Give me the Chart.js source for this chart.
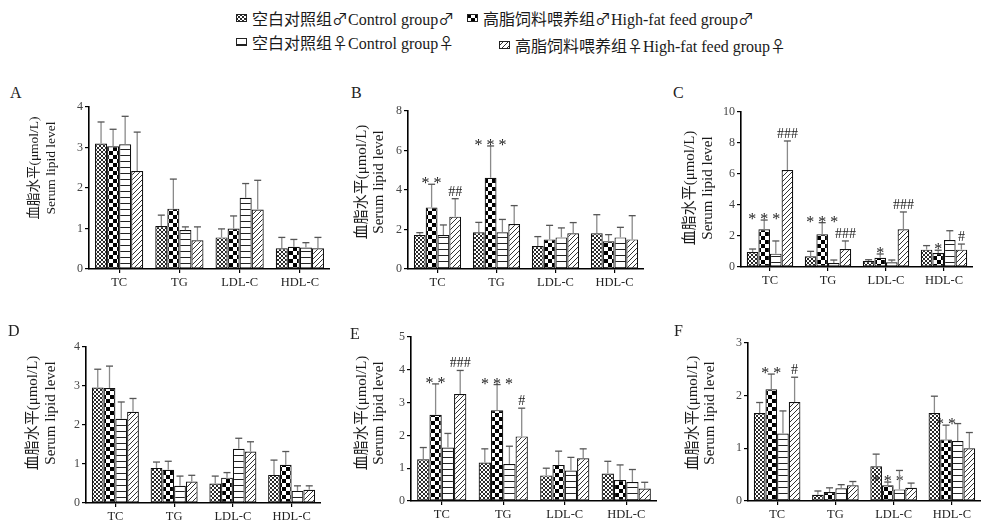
<!DOCTYPE html>
<html lang="zh">
<head>
    <meta charset="UTF-8">
    <title>血脂水平 Serum lipid level</title>
    <script src="https://cdn.jsdelivr.net/npm/chart.js"></script>
    <style>
        html, body {
            margin: 0;
            padding: 0;
            width: 981px;
            height: 522px;
            overflow: hidden;
            background: #fff;
            font-family: 'Liberation Serif', 'Noto Sans CJK SC', serif;
            color: #222;
        }
        canvas.panel { position: absolute; }
        .leg {
            position: absolute;
            height: 20px;
            display: flex;
            align-items: center;
            font-size: 16px;
            white-space: nowrap;
            color: #1a1a1a;
        }
        .leg canvas { margin-right: 5px; }
        .leg .cjk { font-family: 'Noto Sans CJK SC', sans-serif; }
        .letter {
            position: absolute;
            font-size: 16px;
            line-height: 16px;
        }
        .ytitle {
            position: absolute;
            transform: translate(-50%, -50%) rotate(-90deg);
            text-align: center;
            white-space: nowrap;
            color: #1a1a1a;
        }
    </style>
</head>
<body>
    <div id="legend"></div>
    <div id="panels"></div>

    <script>
        const categories = ['TC', 'TG', 'LDL-C', 'HDL-C'];
        const groupNames = [
            '空白对照组♂Control group♂',
            '高脂饲料喂养组♂High-fat feed group♂',
            '空白对照组♀Control group♀',
            '高脂饲料喂养组♀High-fat feed group♀'
        ];
        const yTitle = ['血脂水平(μmol/L)', 'Serum lipid level'];

        // mean values, one row per group (ctrl♂, hf♂, ctrl♀, hf♀)
        const meanA = [[3.10, 1.06, 0.78, 0.51], [3.03, 1.49, 1.00, 0.55], [3.08, 0.96, 1.76, 0.53], [2.42, 0.71, 1.47, 0.51]];
        const sdA   = [[0.53, 0.27, 0.21, 0.27], [0.42, 0.73, 0.31, 0.18], [0.69, 0.08, 0.35, 0.12], [0.96, 0.33, 0.72, 0.27]];
        const sigA  = [['', '', '', ''], ['', '', '', ''], ['', '', '', ''], ['', '', '', '']];

        const meanB = [[1.72, 1.86, 1.16, 1.81], [3.12, 4.62, 1.50, 1.40], [1.72, 1.86, 1.60, 1.60], [2.65, 2.28, 1.81, 1.50]];
        const sdB   = [[0.12, 0.50, 0.48, 0.94], [1.17, 1.61, 0.71, 0.34], [0.51, 0.65, 0.48, 0.51], [0.91, 0.93, 0.54, 1.20]];
        const sigB  = [['', '', '', ''], ['**', '***', '', ''], ['', '', '', ''], ['##', '', '', '']];

        const meanC = [[0.97, 0.69, 0.39, 1.12], [2.43, 2.11, 0.60, 0.90], [0.86, 0.26, 0.30, 1.74], [6.26, 1.16, 2.43, 1.12]];
        const sdC   = [[0.19, 0.32, 0.08, 0.26], [0.60, 0.75, 0.24, 0.18], [0.82, 0.19, 0.15, 0.60], [1.87, 0.52, 1.12, 0.36]];
        const sigC  = [['', '', '', ''], ['***', '***', '*', '*'], ['', '', '', ''], ['###', '###', '###', '#']];

        const meanD = [[2.96, 0.90, 0.50, 0.72], [2.95, 0.85, 0.65, 0.98], [2.16, 0.44, 1.39, 0.31], [2.34, 0.55, 1.32, 0.34]];
        const sdD   = [[0.47, 0.15, 0.19, 0.38], [0.56, 0.22, 0.13, 0.34], [0.43, 0.25, 0.27, 0.13], [0.34, 0.16, 0.25, 0.10]];
        const sigD  = [['', '', '', ''], ['', '', '', ''], ['', '', '', ''], ['', '', '', '']];

        const meanE = [[1.27, 1.17, 0.78, 0.84], [2.63, 2.77, 1.10, 0.64], [1.63, 1.13, 0.93, 0.58], [3.26, 1.97, 1.30, 0.38]];
        const sdE   = [[0.36, 0.42, 0.22, 0.37], [0.94, 0.78, 0.42, 0.46], [0.43, 0.54, 0.40, 0.38], [0.72, 0.86, 0.29, 0.19]];
        const sigE  = [['', '', '', ''], ['**', '***', '', ''], ['', '', '', ''], ['###', '#', '', '']];

        const meanF = [[1.67, 0.12, 0.66, 1.67], [2.12, 0.17, 0.30, 1.17], [1.28, 0.24, 0.22, 1.14], [1.88, 0.30, 0.25, 1.00]];
        const sdF   = [[0.20, 0.07, 0.23, 0.32], [0.29, 0.08, 0.06, 0.27], [0.43, 0.07, 0.36, 0.33], [0.47, 0.07, 0.09, 0.30]];
        const sigF  = [['', '', '', ''], ['**', '', '***', '**'], ['', '', '', ''], ['#', '', '', '']];

        Chart.defaults.font.family = "'Liberation Serif', 'Times New Roman', serif";
        Chart.defaults.color = '#333';

        // fill patterns for the four groups
        function makePattern(kind) {
            const c = document.createElement('canvas');
            const g = c.getContext('2d');
            if (kind === 0) {
                c.width = 4; c.height = 4;
                g.fillStyle = '#fff'; g.fillRect(0, 0, 4, 4);
                g.fillStyle = '#2a2a2a';
                g.fillRect(0, 0, 2, 2); g.fillRect(2, 2, 2, 2);
            } else if (kind === 1) {
                c.width = 8; c.height = 8;
                g.fillStyle = '#fff'; g.fillRect(0, 0, 8, 8);
                g.fillStyle = '#000';
                g.fillRect(0, 0, 4, 4); g.fillRect(4, 4, 4, 4);
            } else if (kind === 2) {
                c.width = 6; c.height = 6;
                g.fillStyle = '#fff'; g.fillRect(0, 0, 6, 6);
                g.fillStyle = '#222';
                g.fillRect(0, 0, 6, 1);
            } else {
                c.width = 5; c.height = 5;
                g.fillStyle = '#fff'; g.fillRect(0, 0, 5, 5);
                g.fillStyle = '#333';
                for (let i = 0; i < 5; i++) g.fillRect(i, 4 - i, 1, 1);
            }
            return g.createPattern(c, 'repeat');
        }
        const patterns = [0, 1, 2, 3].map(makePattern);

        // error bars + significance marks
        const errorBars = {
            id: 'errorBars',
            afterDatasetsDraw(chart, args, opts) {
                const ctx = chart.ctx;
                const y = chart.scales.y;
                chart.data.datasets.forEach((ds, i) => {
                    chart.getDatasetMeta(i).data.forEach((bar, j) => {
                        const top = y.getPixelForValue(ds.data[j] + opts.sd[i][j]);
                        ctx.save();
                        ctx.strokeStyle = '#8a8a8a';
                        ctx.lineWidth = 1.3;
                        ctx.beginPath();
                        ctx.moveTo(bar.x, bar.y);
                        ctx.lineTo(bar.x, top);
                        ctx.stroke();
                        ctx.strokeStyle = '#555';
                        ctx.beginPath();
                        ctx.moveTo(bar.x - 3.5, top);
                        ctx.lineTo(bar.x + 3.5, top);
                        ctx.stroke();
                        const mark = opts.sig[i][j];
                        if (mark) {
                            ctx.fillStyle = '#222';
                            ctx.textAlign = 'center';
                            ctx.textBaseline = 'alphabetic';
                            if (mark[0] === '*') {
                                ctx.font = "16px 'Liberation Serif', serif";
                                ctx.fillText(mark.split('').join(' '), bar.x, top + 4);
                            } else {
                                ctx.font = "14px 'Liberation Serif', serif";
                                ctx.fillText(mark, bar.x, top - 3);
                            }
                        }
                        ctx.restore();
                    });
                });
            }
        };

        const PAD_TOP = 24, Y_W = 40, X_H = 30;

        function makePanel(letter, area, means, sds, sig, yMax, step, title) {
            const cv = document.createElement('canvas');
            cv.className = 'panel';
            const w = area.r - area.l + Y_W;
            const h = area.b - area.t + PAD_TOP + X_H;
            cv.width = w; cv.height = h;
            cv.style.left = (area.l - Y_W) + 'px';
            cv.style.top = (area.t - PAD_TOP) + 'px';
            document.getElementById('panels').appendChild(cv);

            const lt = document.createElement('div');
            lt.className = 'letter';
            lt.textContent = letter;
            lt.style.left = title.lx + 'px';
            lt.style.top = title.ly + 'px';
            document.body.appendChild(lt);

            const yt = document.createElement('div');
            yt.className = 'ytitle';
            yt.style.left = title.x + 'px';
            yt.style.top = title.y + 'px';
            yt.style.fontSize = title.size + 'px';
            yt.style.lineHeight = title.lh + 'px';
            yt.innerHTML = yTitle.join('<br>');
            document.body.appendChild(yt);

            new Chart(cv, {
                type: 'bar',
                data: {
                    labels: categories,
                    datasets: means.map((m, i) => ({
                        label: groupNames[i],
                        data: m,
                        backgroundColor: patterns[i],
                        borderColor: '#111',
                        borderWidth: 1.2,
                        borderSkipped: false,
                        categoryPercentage: 0.8,
                        barPercentage: 1.0
                    }))
                },
                options: {
                    responsive: false,
                    animation: false,
                    devicePixelRatio: 1,
                    layout: { padding: { top: PAD_TOP, left: 0, right: 0, bottom: 0 } },
                    plugins: {
                        legend: { display: false },
                        tooltip: { enabled: false },
                        errorBars: { sd: sds, sig: sig }
                    },
                    scales: {
                        x: {
                            afterFit: s => { s.height = X_H; },
                            grid: { display: true, drawOnChartArea: false, drawTicks: true, tickLength: 4, offset: false, color: '#000', lineWidth: 1.2 },
                            border: { display: true, color: '#000', width: 1.6 },
                            ticks: { color: '#222', font: { size: 12.5 }, padding: 2 }
                        },
                        y: {
                            min: 0,
                            max: yMax,
                            afterFit: s => { s.width = Y_W; },
                            grid: { display: true, drawOnChartArea: false, drawTicks: true, tickLength: 4, color: '#000', lineWidth: 1.2 },
                            border: { display: true, color: '#000', width: 1.6 },
                            ticks: { stepSize: step, color: '#444', font: { size: 12 }, padding: 2 }
                        }
                    }
                },
                plugins: [errorBars]
            });
        }

        makePanel('A', { l: 89, r: 330, t: 107, b: 269 }, meanA, sdA, sigA, 4, 1,
            { lx: 10, ly: 85, x: 42, y: 168, size: 13.5, lh: 17 });
        makePanel('B', { l: 408, r: 644, t: 111, b: 269 }, meanB, sdB, sigB, 8, 2,
            { lx: 351, ly: 85, x: 370, y: 182, size: 15, lh: 17 });
        makePanel('C', { l: 741, r: 973, t: 112, b: 267 }, meanC, sdC, sigC, 10, 2,
            { lx: 673, ly: 85, x: 698, y: 188, size: 15, lh: 18 });
        makePanel('D', { l: 86, r: 321, t: 347, b: 503 }, meanD, sdD, sigD, 4, 1,
            { lx: 8, ly: 323, x: 41, y: 413, size: 15, lh: 18 });
        makePanel('E', { l: 411, r: 657, t: 337, b: 501 }, meanE, sdE, sigE, 5, 1,
            { lx: 350, ly: 326, x: 370, y: 413, size: 15, lh: 17 });
        makePanel('F', { l: 748, r: 981, t: 343, b: 501 }, meanF, sdF, sigF, 3, 1,
            { lx: 674, ly: 323, x: 701, y: 413, size: 15, lh: 17 });

        // legend
        const legendPos = [
            { x: 236, y: 18 },
            { x: 467, y: 18 },
            { x: 236, y: 42 },
            { x: 499, y: 45 }
        ];
        groupNames.forEach((name, i) => {
            const d = document.createElement('div');
            d.className = 'leg';
            d.style.left = legendPos[i].x + 'px';
            d.style.top = (legendPos[i].y - 10) + 'px';
            const sw = document.createElement('canvas');
            sw.width = 11; sw.height = 8;
            const g = sw.getContext('2d');
            g.fillStyle = patterns[i];
            g.fillRect(0, 0, 11, 8);
            g.strokeStyle = '#222';
            g.lineWidth = 1;
            g.strokeRect(0.5, 0.5, 10, 7);
            d.appendChild(sw);
            const t = document.createElement('span');
            // gender symbols in the CJK font so they get full width
            t.innerHTML = name.replace(/([♂♀])/g, '<span class="cjk">$1</span>');
            d.appendChild(t);
            document.getElementById('legend').appendChild(d);
        });
    </script>
</body>
</html>
